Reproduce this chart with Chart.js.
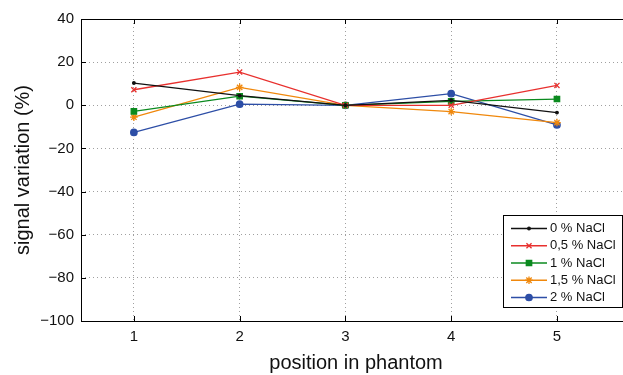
<!DOCTYPE html>
<html>
<head>
<meta charset="utf-8">
<script src="https://cdn.jsdelivr.net/npm/chart.js@4/dist/chart.umd.min.js"></script>
<style>
  html, body { margin: 0; padding: 0; background: #fff; overflow: hidden; }
  #wrap { width: 623px; height: 375px; overflow: hidden; }
</style>
</head>
<body>
<div id="wrap"><canvas id="c" width="640" height="375"></canvas></div>
<script>
// positions along the phantom
const positions = [1, 2, 3, 4, 5];
const yTicks = [40, 20, 0, -20, -40, -60, -80, -100];

const seriesNames = ['0 % NaCl', '0,5 % NaCl', '1 % NaCl', '1,5 % NaCl', '2 % NaCl'];
const nacl0  = [10.3, 4.5, 0, 2.3, -3.4];
const nacl05 = [7.2, 15.4, 0, 0, 9.2];
const nacl1  = [-2.8, 4.2, 0, 1.8, 2.9];
const nacl15 = [-5.5, 8.3, 0, -2.9, -8.0];
const nacl2  = [-12.6, 0.5, 0, 5.4, -9.1];

const colors = ['#111111', '#e8302e', '#0b8a1f', '#f0880c', '#2d4ea6'];
const styles = ['circle', 'crossRot', 'rect', 'star', 'circle'];
const radii  = [1.3, 3.6, 3.8, 3.8, 3.2];

const FONT = '"Liberation Sans", Arial, Helvetica, sans-serif';

function pts(vals){
  return positions.map((p, i) => ({ x: p, y: vals[i] }));
}

const datasets = [nacl0, nacl05, nacl1, nacl15, nacl2].map((vals, i) => ({
  label: seriesNames[i],
  data: pts(vals),
  borderColor: colors[i],
  backgroundColor: colors[i],
  borderWidth: 1.3,
  pointStyle: styles[i],
  pointRadius: radii[i],
  pointBorderWidth: 1.3,
  pointBorderColor: colors[i],
  pointBackgroundColor: colors[i],
  tension: 0
}));

// box round the axes with inward tick marks (matlab style)
const framePlugin = {
  id: 'frame',
  afterDraw(chart){
    const { ctx, chartArea: a, scales } = chart;
    ctx.save();
    ctx.strokeStyle = '#000';
    ctx.lineWidth = 1;
    ctx.strokeRect(Math.round(a.left) + 0.5, Math.round(a.top) + 0.5,
                   Math.round(a.right - a.left), Math.round(a.bottom - a.top));
    ctx.beginPath();
    scales.x.ticks.forEach(t => {
      const x = Math.round(scales.x.getPixelForValue(t.value)) + 0.5;
      ctx.moveTo(x, a.bottom); ctx.lineTo(x, a.bottom - 5);
      ctx.moveTo(x, a.top); ctx.lineTo(x, a.top + 5);
    });
    scales.y.ticks.forEach(t => {
      const y = Math.round(scales.y.getPixelForValue(t.value)) + 0.5;
      ctx.moveTo(a.left, y); ctx.lineTo(a.left + 5, y);
      ctx.moveTo(a.right, y); ctx.lineTo(a.right - 5, y);
    });
    ctx.stroke();
    ctx.restore();
  }
};

// legend box inside the axes, lower right
const legendPlugin = {
  id: 'boxLegend',
  afterDraw(chart){
    const { ctx } = chart;
    const x0 = 503, y0 = 215, x1 = 622, y1 = 307;
    ctx.save();
    ctx.fillStyle = '#fff';
    ctx.fillRect(x0, y0, x1 - x0, y1 - y0);
    ctx.strokeStyle = '#000';
    ctx.lineWidth = 1;
    ctx.strokeRect(x0 + 0.5, y0 + 0.5, x1 - x0, y1 - y0);
    chart.data.datasets.forEach((ds, i) => {
      const y = 228.5 + i * 17.25;
      ctx.strokeStyle = ds.borderColor;
      ctx.lineWidth = 1.3;
      ctx.beginPath();
      ctx.moveTo(511, y); ctx.lineTo(547, y);
      ctx.stroke();
      ctx.fillStyle = ds.borderColor;
      if (Chart.helpers && Chart.helpers.drawPoint) {
        Chart.helpers.drawPoint(ctx, { pointStyle: ds.pointStyle, radius: ds.pointRadius, borderWidth: 1.3 }, 529, y);
      }
      ctx.fillStyle = '#111';
      ctx.font = '13px ' + FONT;
      ctx.textBaseline = 'middle';
      ctx.textAlign = 'left';
      ctx.fillText(ds.label, 550, y);
    });
    ctx.restore();
  }
};

new Chart(document.getElementById('c').getContext('2d'), {
  type: 'line',
  data: { datasets },
  plugins: [framePlugin, legendPlugin],
  options: {
    responsive: false,
    animation: false,
    layout: { padding: { top: 19, right: 9, left: 0, bottom: 0 } },
    plugins: { legend: { display: false }, tooltip: { enabled: false } },
    scales: {
      x: {
        type: 'linear',
        min: 0.5,
        max: 5.7,
        afterBuildTicks: s => { s.ticks = positions.map(v => ({ value: v })); },
        afterFit: s => { s.height = 54; },
        grid: { color: '#a0a0a0', lineWidth: 1, drawTicks: false },
        border: { display: false, dash: [1, 3] },
        ticks: { color: '#111', padding: 7, font: { family: FONT, size: 15 }, maxRotation: 0 },
        title: { display: true, text: 'position in phantom', color: '#111',
                 font: { family: FONT, size: 20 }, padding: { top: 0, bottom: 0 } }
      },
      y: {
        min: -100,
        max: 40,
        afterBuildTicks: s => { s.ticks = yTicks.map(v => ({ value: v })); },
        afterFit: s => { s.width = 81; },
        grid: { color: '#a0a0a0', lineWidth: 1, drawTicks: false },
        border: { display: false, dash: [1, 3] },
        ticks: {
          color: '#111', padding: 7, font: { family: FONT, size: 15 },
          callback: v => String(v).replace('-', '\u2212')
        },
        title: { display: true, text: 'signal variation (%)', color: '#111',
                 font: { family: FONT, size: 20 }, padding: { top: 11, bottom: 0 } }
      }
    }
  }
});
</script>
</body>
</html>
